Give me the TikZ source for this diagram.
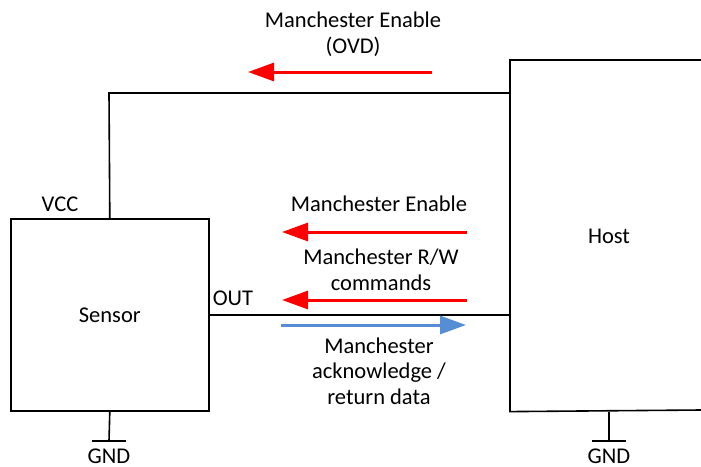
\documentclass[tikz,border=0pt]{standalone}
\usepackage{fontspec}
\setmainfont{Carlito}
\usetikzlibrary{arrows.meta}
\definecolor{redarr}{RGB}{255,0,0}
\definecolor{bluearr}{RGB}{85,142,213}
\begin{document}
\begin{tikzpicture}[x=1pt,y=-1pt,
  every node/.style={font=\fontsize{22.5}{25.5}\selectfont, inner sep=0pt},
  block/.style={draw, line width=1.6pt, minimum width=198pt, anchor=north west},
  wire/.style={line width=1.6pt, black},
  redsig/.style={line width=3pt, redarr, -{Triangle[length=26pt,width=18pt]}},
  bluesig/.style={line width=3pt, bluearr, -{Triangle[length=26pt,width=18pt]}},
  lbl/.style={align=center}]
\useasboundingbox (0,0) rectangle (701,466);
% blocks
\node[block, minimum height=192pt] (sensor) at (10,218) {};
\node at (sensor.center) (sensortxt) {Sensor};
\node[block, draw=none, minimum height=350pt] (host) at (510,60) {};
\coordinate (hne) at (701,60);
\coordinate (hse) at (701,410);
\draw[wire] (hne) -- (host.north west) -- (host.south west) -- (hse);
\node at (609,236) (hosttxt) {Host};
% wires
\coordinate (vccup) at (109,93);
\draw[wire] (sensor.north) -- (vccup) -- (vccup -| host.west);
\coordinate (outl) at (208,315);
\draw[wire] (outl) -- (outl -| host.west);
% grounds
\coordinate (g1) at (109,441);
\coordinate (g2) at (609,441);
\draw[wire] (sensor.south) -- (g1);
\draw[wire] ([xshift=-17pt]g1) -- ([xshift=17pt]g1);
\draw[wire] (host.south -| g2) -- (g2);
\draw[wire] ([xshift=-17pt]g2) -- ([xshift=17pt]g2);
\node (gndl) at (109,456) {GND};
\node (gndr) at (609,456) {GND};
% pin labels
\node (vcc) at (60,204) {VCC};
\node (out) at (233,298) {OUT};
% signals
\node[lbl] (t1) at (353,34) {Manchester Enable\\(OVD)};
\coordinate (a1s) at (432,72); \coordinate (a1e) at (248,72);
\draw[redsig] (a1s) -- (a1e);
\node (t2) at (379,204) {Manchester Enable};
\coordinate (a2s) at (467,232); \coordinate (a2e) at (282,232);
\draw[redsig] (a2s) -- (a2e);
\node[lbl] (t3) at (381,270) {Manchester R/W\\commands};
\coordinate (a3s) at (467,300); \coordinate (a3e) at (282,300);
\draw[redsig] (a3s) -- (a3e);
\coordinate (b1s) at (281,325); \coordinate (b1e) at (466,325);
\draw[bluesig] (b1s) -- (b1e);
\node[lbl] (t4) at (379,371) {Manchester\\acknowledge /\\return data};
\end{tikzpicture}
\end{document}
